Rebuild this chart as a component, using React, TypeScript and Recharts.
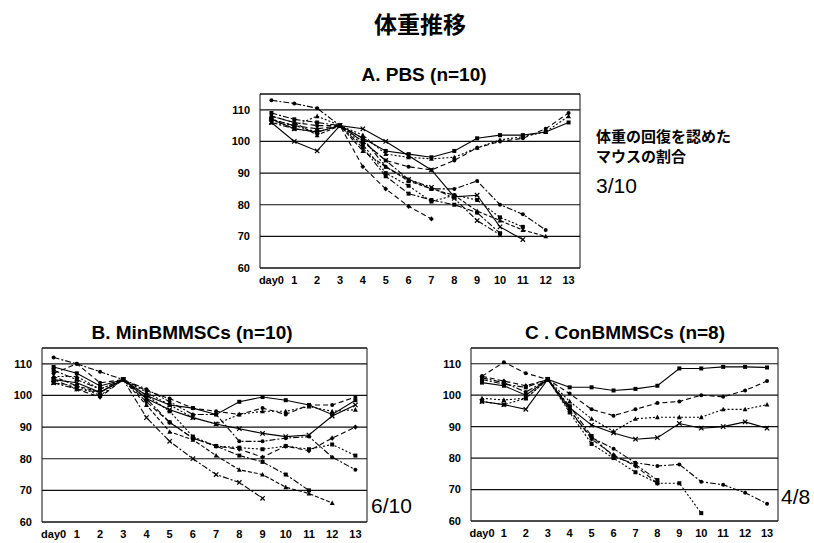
import React from "react";
import {
  LineChart,
  Line,
  XAxis,
  YAxis,
  CartesianGrid,
  ReferenceLine,
} from "recharts";

const days = ["day0", "1", "2", "3", "4", "5", "6", "7", "8", "9", "10", "11", "12", "13"];
const yTicks = [60, 70, 80, 90, 100, 110];

// A. PBS (n=10)
const pbsMice: number[][] = [
  [107, 104, 103, 105, 101, 97, 96, 95, 97, 101, 102, 102, 103, 106],
  [108, 106, 105, 105, 100, 94, 92, 91, 94, 98, 100, 101, 104, 109],
  [106, 105, 108, 105, 102, 96, 95, 94.5, 95, 98, 100.5, 101.5, 103, 108],
  [106, 100, 97, 105, 104, 100, 95.5, 91, 82.5, 83, 73, 69],
  [113, 112, 110.5, 105, 101, 92, 88, 85, 85, 87.5, 80, 77, 72],
  [107, 105, 103, 105, 99, 90, 86, 81, 83, 81.5, 76, 73],
  [107, 105, 104, 105, 92, 85, 79.5, 75.5],
  [109, 107, 106, 105, 98, 89, 83.5, 81.5, 80, 77.5, 71],
  [108, 106, 102, 105, 97, 92, 87.5, 85, 83, 78, 75, 72, 70],
  [106, 104, 103, 105, 100, 94, 88, 85.5, 82, 75, 70.5],
];

// B. MinBMMSCs (n=10)
const minMice: number[][] = [
  [109, 107, 103, 105, 100, 97, 96, 94, 98, 99.5, 98.5, 97, 94, 98.5],
  [107, 110, 104, 105, 101.5, 99, 96, 95, 94, 96, 94, 97, 97, 99.5],
  [106, 106, 102, 105, 101, 97, 93, 91, 94, 95, 95, 96.5, 95, 95.5],
  [105, 104, 101, 105, 99, 95.5, 93, 91, 89.5, 88, 87, 87.5, 93.5, 97],
  [112, 110, 107.5, 105, 102, 98, 94, 94, 85.5, 85.5, 86.5, 87, 80.5, 76.5],
  [104, 103, 100, 105, 100, 95, 87, 84, 83.5, 83, 84, 83, 84.5, 81],
  [105, 102, 99.5, 105, 98, 91.5, 86.5, 84, 83, 80.5, 84, 82.5, 86.5, 90],
  [108, 105, 102, 105, 99, 91.5, 86.5, 84, 81, 79, 75, 70],
  [106, 103, 101, 105, 97, 88.5, 86, 81, 76.5, 75, 71, 69, 66],
  [104, 102, 101, 105, 93, 85.5, 80, 75, 72.5, 67.5],
];

// C. ConBMMSCs (n=8)
const conMice: number[][] = [
  [104, 103, 100, 105, 102.5, 102.5, 101.5, 102, 103, 108.5, 108.5, 109, 109, 108.8],
  [106, 110.5, 107, 105, 100.5, 95.5, 93.5, 95.5, 97.5, 98, 100, 99.5, 101.5, 104.5],
  [99, 98.5, 99, 105, 98, 92.5, 88.5, 92.5, 93, 93, 93, 95.5, 95.5, 97],
  [98, 97, 95.5, 105, 96, 90.5, 88, 86, 86.5, 91, 89.5, 90, 91.5, 89.5],
  [105.5, 104, 101, 105, 95, 86.5, 83, 78.5, 77.5, 78, 72.5, 71.5, 69, 65.5],
  [98, 97, 99, 105, 94.5, 84.5, 80, 75.5, 72, 72, 62.5],
  [106, 104.5, 103, 105, 95.5, 86, 81, 77.5, 72],
  [105, 103.5, 102.5, 105, 96.5, 87, 80.5, 78, 73],
];

type Look = { dash: string; mark: string };

const looks: Look[] = [
  { dash: "", mark: "square" },
  { dash: "5 3", mark: "circle" },
  { dash: "2 2", mark: "triangle" },
  { dash: "", mark: "cross" },
  { dash: "6 2 2 2", mark: "circle" },
  { dash: "2 2", mark: "square" },
  { dash: "5 3", mark: "diamond" },
  { dash: "6 2 2 2", mark: "square" },
  { dash: "4 2", mark: "triangle" },
  { dash: "6 2 2 2", mark: "cross" },
];

function buildRows(mice: number[][]) {
  return days.map((d, i) => {
    const row: Record<string, string | number | null> = { day: d };
    mice.forEach((m, j) => {
      row["m" + j] = i < m.length ? m[i] : null;
    });
    return row;
  });
}

function markerFor(kind: string) {
  return (p: any) => {
    const { cx, cy, index } = p;
    if (cx == null || cy == null || p.value == null) return <g key={index} />;
    if (kind === "square")
      return <rect key={index} x={cx - 2} y={cy - 2} width={4} height={4} fill="#000" />;
    if (kind === "triangle")
      return (
        <path key={index} d={`M${cx},${cy - 2.6}L${cx + 2.4},${cy + 2}L${cx - 2.4},${cy + 2}Z`} fill="#000" />
      );
    if (kind === "diamond")
      return (
        <path key={index} d={`M${cx},${cy - 2.6}L${cx + 2.4},${cy}L${cx},${cy + 2.6}L${cx - 2.4},${cy}Z`} fill="#000" />
      );
    if (kind === "cross")
      return (
        <path key={index} d={`M${cx - 2.2},${cy - 2.2}L${cx + 2.2},${cy + 2.2}M${cx - 2.2},${cy + 2.2}L${cx + 2.2},${cy - 2.2}`} stroke="#000" strokeWidth={1.2} />
      );
    return <circle key={index} cx={cx} cy={cy} r={2} fill="#000" />;
  };
}

const tickStyle = {
  fill: "#000",
  fontSize: 11,
  fontWeight: 700,
  fontFamily: '"Liberation Sans", Arial, sans-serif',
};

interface PanelProps {
  left: number;
  top: number;
  width: number;
  height: number;
  mice: number[][];
}

function Panel({ left, top, width, height, mice }: PanelProps) {
  const yw = 44;
  const mt = 2;
  const band = width / days.length;
  const rows = buildRows(mice);
  return (
    <div style={{ position: "absolute", left: left - yw, top: top - mt }}>
      <LineChart
        width={yw + width + 1}
        height={mt + height + 24}
        data={rows}
        margin={{ top: mt, right: 0, bottom: 0, left: 0 }}
      >
        <CartesianGrid vertical={false} stroke="#111" strokeWidth={1.2} />
        <ReferenceLine y={115} stroke="#111" />
        <XAxis
          dataKey="day"
          interval={0}
          padding={{ left: band / 2, right: band / 2 }}
          tickLine={false}
          axisLine={{ stroke: "#111" }}
          tick={tickStyle}
          height={24}
        />
        <YAxis
          domain={[60, 115]}
          ticks={yTicks}
          width={yw}
          tickLine={false}
          tickMargin={4}
          axisLine={{ stroke: "#111" }}
          tick={tickStyle}
        />
        <YAxis
          yAxisId="r"
          orientation="right"
          domain={[60, 115]}
          width={1}
          tick={false}
          tickLine={false}
          axisLine={{ stroke: "#111" }}
        />
        {mice.map((_, j) => (
          <Line
            key={j}
            dataKey={"m" + j}
            type="linear"
            stroke="#000"
            strokeWidth={1.1}
            strokeDasharray={looks[j].dash || undefined}
            dot={markerFor(looks[j].mark)}
            activeDot={false}
            connectNulls={false}
            isAnimationActive={false}
          />
        ))}
      </LineChart>
    </div>
  );
}

const jp = '"Noto Sans CJK JP", "Noto Sans", sans-serif';
const latin = '"Liberation Sans", Arial, sans-serif';

function Label({ x, y, w, text, size, bold, font, align }: any) {
  return (
    <div
      style={{
        position: "absolute",
        left: x,
        top: y - size / 2,
        width: w,
        textAlign: align || "center",
        fontSize: size,
        lineHeight: `${size}px`,
        fontWeight: bold ? 700 : 400,
        fontFamily: font || latin,
        whiteSpace: "nowrap",
        color: "#000",
      }}
    >
      {text}
    </div>
  );
}

export default function App() {
  return (
    <div
      style={{
        position: "absolute",
        left: 0,
        top: 0,
        width: 814,
        height: 543,
        background: "#fff",
        overflow: "hidden",
      }}
    >
      <Label x={320} y={23} w={200} text="体重推移" size={23} bold font={jp} />
      <Label x={324} y={74} w={200} text="A. PBS (n=10)" size={19} bold />
      <Label x={42} y={332} w={300} text="B. MinBMMSCs (n=10)" size={19} bold />
      <Label x={475} y={332} w={300} text="C . ConBMMSCs (n=8)" size={19} bold />

      <Panel left={260} top={94} width={320} height={174} mice={pbsMice} />
      <Panel left={42} top={348} width={325} height={174} mice={minMice} />
      <Panel left={471} top={348} width={307} height={173} mice={conMice} />

      <Label x={596} y={135} w={200} text="体重の回復を認めた" size={15} bold font={jp} align="left" />
      <Label x={596} y={155} w={200} text="マウスの割合" size={15} bold font={jp} align="left" />
      <Label x={596} y={185} w={80} text="3/10" size={21} align="left" />
      <Label x={371} y={505} w={60} text="6/10" size={21} align="left" />
      <Label x={781} y={496} w={40} text="4/8" size={21} align="left" />
    </div>
  );
}
